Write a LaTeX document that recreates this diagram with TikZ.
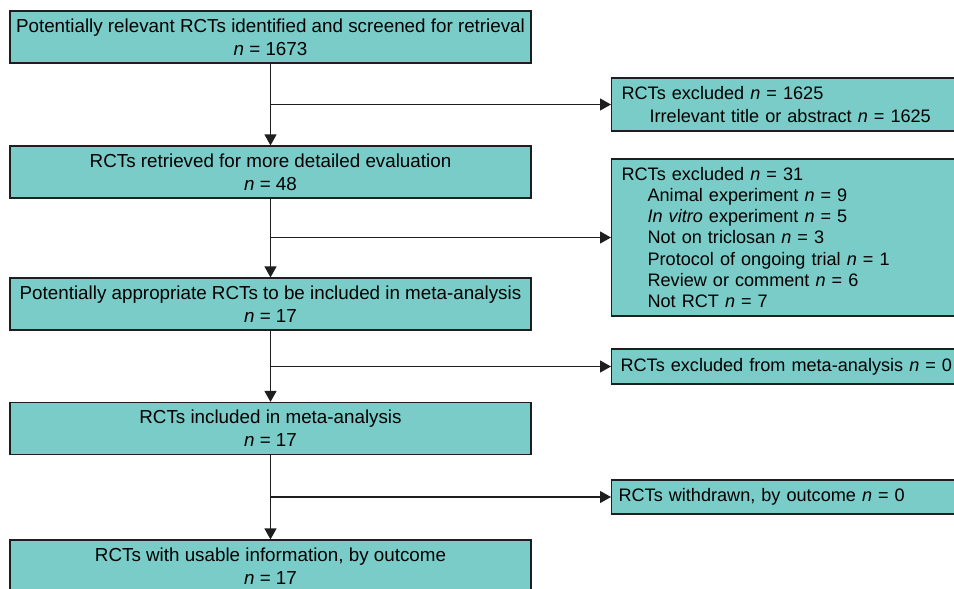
\documentclass[tikz,border=0pt]{standalone}
\usepackage{fontspec}
\setmainfont{Liberation Sans}
\usetikzlibrary{arrows.meta}
\definecolor{boxfill}{HTML}{7ACCC8}
\definecolor{edge}{HTML}{1E1E1E}
\newcommand{\nn}{\textit{n} = }
\begin{document}
\begin{tikzpicture}[x=1pt,y=-1pt,
  mainbox/.style={draw=edge, line width=1.2pt, fill=boxfill, minimum width=521pt, minimum height=52pt,
    align=center, inner sep=0pt, font=\fontsize{18.8}{23}\selectfont},
  sidebox/.style={draw=edge, line width=1.2pt, fill=boxfill, anchor=west, text width=380pt,
    align=left, inner xsep=10pt, inner ysep=0pt, font=\fontsize{18.1}{23}\selectfont},
  arr/.style={draw=edge, line width=1.25pt, -{Triangle[length=11pt,width=12pt]}}]
\clip (0,0) rectangle (954,589);
\fill[white] (0,0) rectangle (954,589);
% main column
\node[mainbox] (b1) at (270.5,37) {Potentially relevant RCTs identified and screened for retrieval\\ \nn 1673};
\node[mainbox] (b2) at (270.5,172) {RCTs retrieved for more detailed evaluation\\ \nn 48};
\node[mainbox] (b3) at (270.5,304) {Potentially appropriate RCTs to be included in meta-analysis\\ \nn 17};
\node[mainbox] (b4) at (270.5,428.5) {RCTs included in meta-analysis\\ \nn 17};
\node[mainbox] (b5) at (270.5,566) {RCTs with usable information, by outcome\\ \nn 17};
% side boxes
\node[sidebox, minimum height=53pt] (r1) at (611,104.5) {RCTs excluded \nn 1625\\ \hspace*{28pt}Irrelevant title or abstract \nn 1625};
\node[sidebox, minimum height=157pt, font=\fontsize{18.1}{21.3}\selectfont] (r2) at (611,237.5) {RCTs excluded \nn 31\\
 \hspace*{26pt}Animal experiment \nn 9\\
 \hspace*{26pt}\textit{In vitro} experiment \nn 5\\
 \hspace*{26pt}Not on triclosan \nn 3\\
 \hspace*{26pt}Protocol of ongoing trial \nn 1\\
 \hspace*{26pt}Review or comment \nn 6\\
 \hspace*{26pt}Not RCT \nn 7};
\node[sidebox, minimum height=35pt, inner xsep=9pt] (r3) at (611,366.5) {RCTs excluded from meta-analysis \nn 0};
\node[sidebox, minimum height=34pt, inner xsep=7pt] (r4) at (611,497) {RCTs withdrawn, by outcome \nn 0};
% connectors
\draw[arr] (b1) -- (b2);
\draw[arr] (b2) -- (b3);
\draw[arr] (b3) -- (b4);
\draw[arr] (b4) -- (b5);
\draw[arr] (b1.south |- r1.west) -- (r1.west);
\draw[arr] (b2.south |- r2.west) -- (r2.west);
\draw[arr] (b3.south |- r3.west) -- (r3.west);
\draw[arr] (b4.south |- r4.west) -- (r4.west);
\end{tikzpicture}
\end{document}
